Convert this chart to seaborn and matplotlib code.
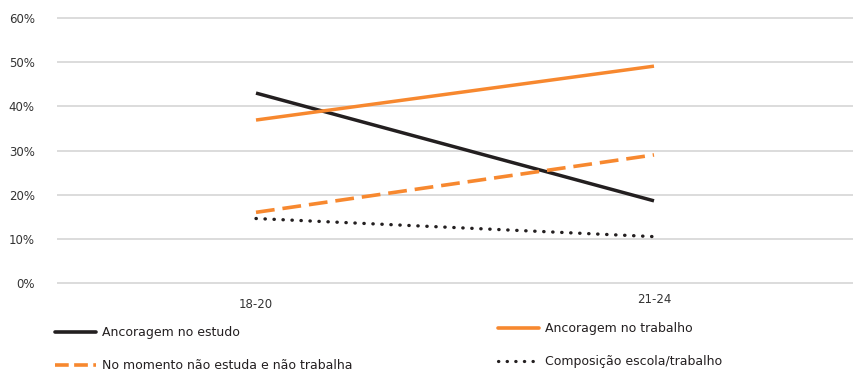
import matplotlib
matplotlib.use("Agg")
import matplotlib.pyplot as plt
from matplotlib.lines import Line2D
from matplotlib.transforms import ScaledTranslation
import pandas as pd
import seaborn as sns

# Faixas etárias e percentuais por trajetória
faixas = ["18-20", "21-24"]
ancoragem_estudo = [43.0, 18.6]
ancoragem_trabalho = [36.9, 49.1]
nem_estuda_nem_trabalha = [16.0, 29.0]
composicao_escola_trabalho = [14.6, 10.5]
y_ticks = [0, 10, 20, 30, 40, 50, 60]

nomes = [
    "Ancoragem no estudo",
    "Ancoragem no trabalho",
    "No momento não estuda e não trabalha",
    "Composição escola/trabalho",
]
valores = [ancoragem_estudo, ancoragem_trabalho,
           nem_estuda_nem_trabalha, composicao_escola_trabalho]

df = pd.DataFrame({
    "faixa": faixas * len(nomes),
    "serie": [n for n in nomes for _ in faixas],
    "pct": [v for vals in valores for v in vals],
})

PRETO = "#231f20"
LARANJA = "#f7882f"
cores = {nomes[0]: PRETO, nomes[1]: LARANJA, nomes[2]: LARANJA, nomes[3]: PRETO}
tracos = {nomes[0]: "", nomes[1]: "", nomes[2]: (5.4, 2.3), nomes[3]: (0.1, 2.55)}

sns.set_theme(style="white")
plt.rcParams["font.family"] = ["DejaVu Sans"]

fig = plt.figure(figsize=(8.54, 3.74), dpi=100)
# 0–60 % ocupa de y=18 a y=283 px; meia unidade de folga para a grade do topo
px_por_un = 265 / 60
ax = fig.add_axes([57 / 854, 1 - (283 + 0.5 * px_por_un) / 374,
                   796 / 854, (265 + px_por_un) / 374])

sns.lineplot(data=df, x="faixa", y="pct", hue="serie", style="serie",
             palette=cores, dashes=tracos, hue_order=nomes, style_order=nomes,
             linewidth=2.5, legend=False, ax=ax, sort=False)
for ln in ax.lines:
    ln.set_solid_capstyle("butt")
    ln.set_dash_capstyle("butt")
# pontilhado com pontos redondos
ax.lines[3].set_linewidth(2.4)
ax.lines[3].set_dashes((0.1, 2.6))
ax.lines[3].set_dash_capstyle("round")
ax.lines[2].set_linewidth(2.6)
ax.lines[2].set_dashes((5.2, 2.2))

ax.set_xlim(-0.5, 1.5)
ax.set_ylim(-0.5, 60.5)
ax.set_yticks(y_ticks)
ax.set_yticklabels([f"{t}%" for t in y_ticks])
ax.grid(axis="y", color="#d9d9d9", linewidth=1.3)
ax.grid(axis="x", visible=False)
ax.set_axisbelow(True)
for s in ax.spines.values():
    s.set_visible(False)
ax.set_xlabel("")
ax.set_ylabel("")
ax.tick_params(axis="both", length=0, labelsize=8.5, colors="#333333")
ax.tick_params(axis="y", pad=16)
ax.tick_params(axis="x", pad=9)
labels = ax.get_xticklabels()
labels[1].set_transform(labels[1].get_transform()
                        + ScaledTranslation(0, 5 / 100, fig.dpi_scale_trans))


def handle(cor, traco, lw=2.6, redondo=False):
    h = Line2D([], [], color=cor, linewidth=lw)
    if traco:
        h.set_dashes(traco)
        h.set_dash_capstyle("round" if redondo else "butt")
    return h


leg_kw = dict(frameon=False, fontsize=9, handlelength=3.3, handletextpad=0.45,
              borderpad=0, borderaxespad=0, labelspacing=1.6, loc="upper left",
              labelcolor="#231f20")
fig.legend([handle(PRETO, ""), handle(LARANJA, (3.8, 1.5))],
           [nomes[0], nomes[2]],
           bbox_to_anchor=(55 / 854, 1 - 326 / 374), **leg_kw)
fig.legend([handle(LARANJA, ""), handle(PRETO, (0.1, 2.6), 2.3, True)],
           [nomes[1], nomes[3]],
           bbox_to_anchor=(498 / 854, 1 - 322 / 374), **leg_kw)

fig.savefig("out.png", dpi=100)
